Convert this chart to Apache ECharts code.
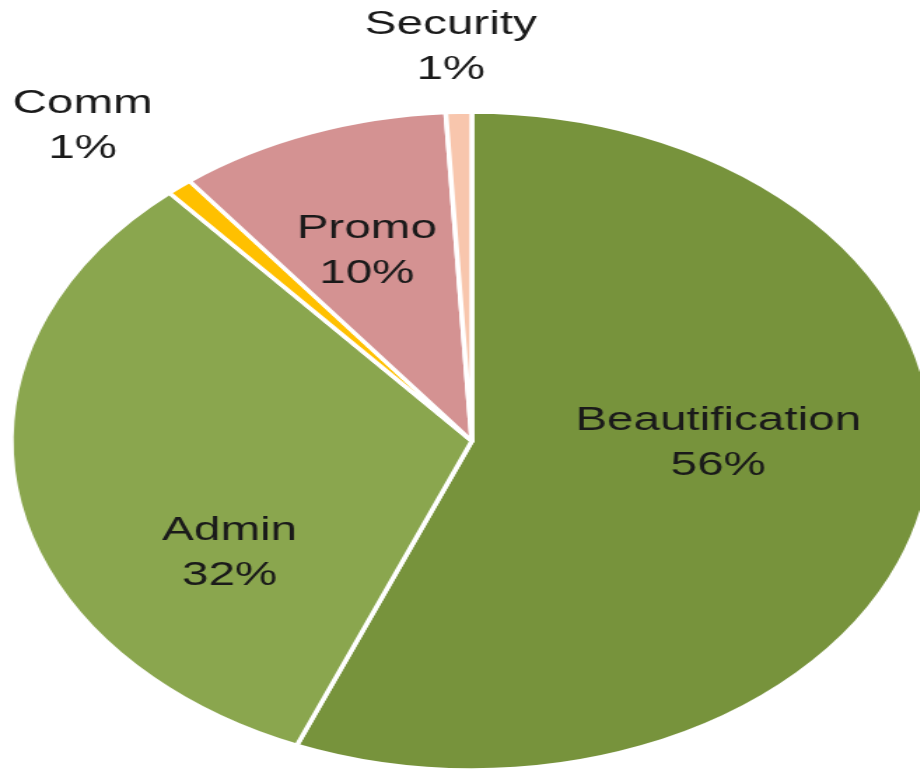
<!DOCTYPE html>
<html>
<head>
<meta charset="utf-8">
<script src="https://cdn.jsdelivr.net/npm/echarts@6/dist/echarts.min.js"></script>
<style>
	html, body { margin: 0; padding: 0; background: #fff; overflow: hidden; width: 920px; height: 772px; }
	/* the original pie is stretched sideways, so draw it narrow and scale it out */
	#main { width: 657px; height: 772px; transform: scaleX(1.4); transform-origin: 0 0; }
</style>
</head>
<body>
<div id="main"></div>
<script>
var categories = ['Beautification', 'Admin', 'Comm', 'Promo', 'Security'];
var shares = [56.2, 32.4, 0.9, 9.6, 0.9];
var colors = ['#77933c', '#8aa64e', '#ffc000', '#d49292', '#f8c6ad'];
// label centres in the narrow (unscaled) space
var labelPos = [[513, 443], [164, 553], [59, 126], [262, 251], [322, 47]];

var pieChart = echarts.init(document.getElementById('main'));
var datas = [];
for (var i = 0; i < categories.length; i++) {
	datas.push({
		name: categories[i],
		value: shares[i],
		itemStyle: { color: colors[i] }
	});
}

pieChart.setOption({
	animation: false,
	series: [
		{
			name: '比例',
			type: 'pie',
			radius: [0, 329],
			center: [337, 441],
			startAngle: 90,
			clockwise: true,
			percentPrecision: 0,
			itemStyle: {
				borderColor: '#fff',
				borderWidth: 3.5
			},
			label: {
				show: true,
				position: 'inside',
				formatter: '{b}\n{d}%',
				fontFamily: 'Liberation Sans',
				fontSize: 34,
				lineHeight: 45,
				color: '#1a1a1a',
				align: 'center'
			},
			labelLine: { show: false },
			labelLayout: function (params) {
				var p = labelPos[params.dataIndex];
				return { x: p[0], y: p[1], align: 'center', verticalAlign: 'middle' };
			},
			emphasis: { disabled: true },
			data: datas
		}
	]
});
</script>
</body>
</html>
